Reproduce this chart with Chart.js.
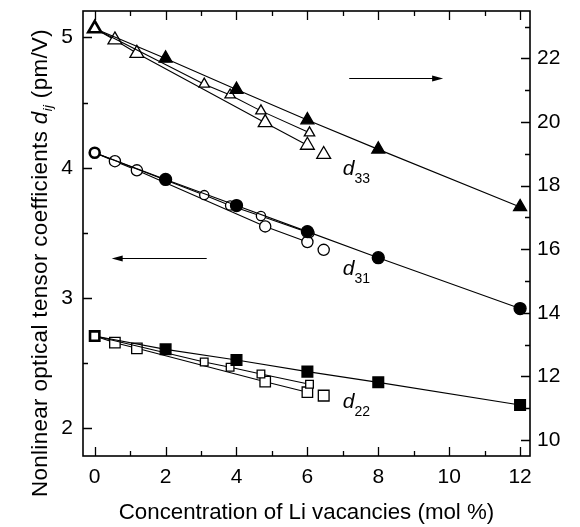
<!DOCTYPE html>
<html>
<head>
<meta charset="utf-8">
<script src="https://cdn.jsdelivr.net/npm/chart.js@4.4.0/dist/chart.umd.min.js"></script>
<style>
html,body{margin:0;padding:0;background:#fff;}
#wrap{width:580px;height:527px;position:relative;}
</style>
</head>
<body>
<div id="wrap"><canvas id="c"></canvas></div>
<script>
// ---- data (x in mol %, d31/d22 on left axis, d33 on right axis, pm/V) ----
const xFilled = [0, 2, 4, 6, 8, 12];
const xOpenA  = [0, 3.09, 3.82, 4.69, 6.06];
const xOpenB  = [0, 0.57, 1.19, 4.81, 6.0];
const xOpenC  = [6.46];

const d33Filled = [22.94, 22.0, 21.02, 20.06, 19.14, 17.33];
const d33OpenA  = [22.94, 21.19, 20.85, 20.35, 19.66];
const d33OpenB  = [22.94, 22.58, 22.16, 19.98, 19.27];
const d33OpenC  = [18.98];

const d31Filled = [4.115, 3.91, 3.71, 3.51, 3.31, 2.92];
const d31OpenA  = [4.115, 3.79, 3.71, 3.63, 3.50];
const d31OpenB  = [4.115, 4.05, 3.98, 3.55, 3.43];
const d31OpenC  = [3.37];

const d22Filled = [2.709, 2.607, 2.525, 2.436, 2.354, 2.18];
const d22OpenA  = [2.709, 2.51, 2.47, 2.418, 2.339];
const d22OpenB  = [2.709, 2.658, 2.615, 2.359, 2.278];
const d22OpenC  = [2.252];

const xTickLabels     = [0, 2, 4, 6, 8, 10, 12];
const leftTickLabels  = [2, 3, 4, 5];
const rightTickLabels = [10, 12, 14, 16, 18, 20, 22];

const FONT = '"Liberation Sans", Arial, Helvetica, sans-serif';
Chart.defaults.font.family = FONT;
Chart.defaults.color = '#000';

const pts = (xs, ys) => xs.map((x, i) => ({x: x, y: ys[i]}));

const radii = {
  triangle: {F: 7.5, A: 6, B: 8, C: 8, Z: 7.5},
  circle:   {F: 6, A: 4.6, B: 5.6, C: 5.6, Z: 5},
  rect:     {F: 7.6, A: 5.4, B: 7.4, C: 7.6, Z: 6.6}
};

function ds(xs, ys, axis, shape, kind) {
  const r = radii[shape];
  return {
    data: pts(xs, ys),
    yAxisID: axis,
    pointStyle: shape,
    borderColor: '#000',
    borderWidth: 1.1,
    showLine: kind !== 'C',
    pointBorderColor: '#000',
    pointBackgroundColor: c => (kind === 'F' && c.dataIndex > 0) ? '#000' : '#fff',
    pointBorderWidth: c => (c.dataIndex === 0 && kind === 'F') ? 2.6 : 1.3,
    pointRadius: c => {
      if (kind === 'C') return r.C;
      if (c.dataIndex === 0) return kind === 'F' ? r.Z : 0;
      return r[kind];
    },
    pointHoverRadius: 0
  };
}

const datasets = [
  ds(xFilled, d33Filled, 'y2', 'triangle', 'F'),
  ds(xOpenA,  d33OpenA,  'y2', 'triangle', 'A'),
  ds(xOpenB,  d33OpenB,  'y2', 'triangle', 'B'),
  ds(xOpenC,  d33OpenC,  'y2', 'triangle', 'C'),
  ds(xFilled, d31Filled, 'y', 'circle', 'F'),
  ds(xOpenA,  d31OpenA,  'y', 'circle', 'A'),
  ds(xOpenB,  d31OpenB,  'y', 'circle', 'B'),
  ds(xOpenC,  d31OpenC,  'y', 'circle', 'C'),
  ds(xFilled, d22Filled, 'y', 'rect', 'F'),
  ds(xOpenA,  d22OpenA,  'y', 'rect', 'A'),
  ds(xOpenB,  d22OpenB,  'y', 'rect', 'B'),
  ds(xOpenC,  d22OpenC,  'y', 'rect', 'C')
];

const deco = {
  id: 'deco',
  afterDatasetsDraw(chart) {
    const ctx = chart.ctx, a = chart.chartArea;
    const sx = chart.scales.x, sy = chart.scales.y, sr = chart.scales.y2;
    ctx.save();
    ctx.strokeStyle = '#000';
    ctx.fillStyle = '#000';
    // frame
    ctx.lineWidth = 1.6;
    ctx.strokeRect(a.left, a.top, a.right - a.left, a.bottom - a.top);
    // inward ticks
    ctx.lineWidth = 1.3;
    ctx.beginPath();
    for (let v = 0; v <= 12; v++) {
      const px = Math.round(sx.getPixelForValue(v)) + 0.5;
      const L = v % 2 === 0 ? 9 : 5;
      ctx.moveTo(px, a.bottom); ctx.lineTo(px, a.bottom - L);
      ctx.moveTo(px, a.top); ctx.lineTo(px, a.top + L);
    }
    for (let k = 4; k <= 10; k++) {
      const v = k / 2;
      const py = Math.round(sy.getPixelForValue(v)) + 0.5;
      const L = k % 2 === 0 ? 9 : 5;
      ctx.moveTo(a.left, py); ctx.lineTo(a.left + L, py);
    }
    for (let v = 10; v <= 23; v++) {
      const py = Math.round(sr.getPixelForValue(v)) + 0.5;
      const L = v % 2 === 0 ? 9 : 5;
      ctx.moveTo(a.right, py); ctx.lineTo(a.right - L, py);
    }
    ctx.stroke();

    // arrows
    function arrow(x1, x2, y) {
      ctx.lineWidth = 1.2;
      ctx.beginPath();
      const dir = Math.sign(x2 - x1);
      ctx.moveTo(x1, y); ctx.lineTo(x2 - dir * 8, y);
      ctx.stroke();
      ctx.beginPath();
      ctx.moveTo(x2, y);
      ctx.lineTo(x2 - dir * 11, y - 3);
      ctx.lineTo(x2 - dir * 11, y + 3);
      ctx.closePath();
      ctx.fill();
    }
    const yR = Math.round(sr.getPixelForValue(21.39)) + 0.5;
    arrow(sx.getPixelForValue(7.18), sx.getPixelForValue(9.83), yR);
    const yL = Math.round(sy.getPixelForValue(3.31)) + 0.5;
    arrow(sx.getPixelForValue(3.16), sx.getPixelForValue(0.48), yL);

    // d labels
    function dlabel(xv, py, sub) {
      const px = sx.getPixelForValue(xv);
      ctx.textAlign = 'left';
      ctx.textBaseline = 'alphabetic';
      ctx.font = 'italic 21px ' + FONT;
      ctx.fillText('d', px, py);
      const w = ctx.measureText('d').width;
      ctx.font = '14px ' + FONT;
      ctx.fillText(sub, px + w, py + 8);
    }
    dlabel(7.0, sr.getPixelForValue(18.33), '33');
    dlabel(7.0, sy.getPixelForValue(3.177), '31');
    dlabel(7.0, sy.getPixelForValue(2.157), '22');

    // y title (rotated, with italic d_ij)
    ctx.save();
    ctx.translate(47, 263);
    ctx.rotate(-Math.PI / 2);
    ctx.textBaseline = 'alphabetic';
    ctx.textAlign = 'left';
    try { ctx.letterSpacing = '0.4px'; } catch (e) {}
    const parts = [
      {t: 'Nonlinear optical tensor coefficients ', f: '22.3px ' + FONT, dy: 0},
      {t: 'd', f: 'italic 22.3px ' + FONT, dy: 0},
      {t: 'ij', f: 'italic 13px ' + FONT, dy: 5},
      {t: ' (pm/V)', f: '22.3px ' + FONT, dy: 0}
    ];
    let total = 0;
    parts.forEach(p => { ctx.font = p.f; p.w = ctx.measureText(p.t).width; total += p.w; });
    let cx = -total / 2;
    parts.forEach(p => { ctx.font = p.f; ctx.fillText(p.t, cx, p.dy); cx += p.w; });
    ctx.restore();

    ctx.restore();
  }
};

new Chart(document.getElementById('c'), {
  type: 'scatter',
  data: {datasets: datasets},
  plugins: [deco],
  options: {
    responsive: true,
    maintainAspectRatio: false,
    animation: false,
    layout: {padding: {top: 11, left: 0, right: 0, bottom: 0}},
    plugins: {legend: {display: false}, tooltip: {enabled: false}},
    scales: {
      x: {
        type: 'linear', position: 'bottom', min: -0.33, max: 12.28,
        grid: {display: false, drawTicks: false},
        border: {display: false},
        afterBuildTicks: s => { s.ticks = xTickLabels.map(v => ({value: v})); },
        ticks: {font: {size: 21}, color: '#000', padding: 9, maxRotation: 0, autoSkip: false,
                callback: v => String(v)},
        title: {display: true, text: 'Concentration of Li vacancies (mol %)',
                font: {size: 22.3}, color: '#000', padding: {top: 0, bottom: 1}},
        afterFit: s => { s.height = 71; s.paddingLeft = 0; s.paddingRight = 0; }
      },
      y: {
        type: 'linear', position: 'left', min: 1.789, max: 5.202,
        grid: {display: false, drawTicks: false},
        border: {display: false},
        afterBuildTicks: s => { s.ticks = leftTickLabels.map(v => ({value: v})); },
        ticks: {font: {size: 21}, color: '#000', padding: 10, callback: v => String(v)},
        afterFit: s => { s.width = 83; s.paddingTop = 0; s.paddingBottom = 0; }
      },
      y2: {
        type: 'linear', position: 'right', min: 9.5, max: 23.49,
        grid: {display: false, drawTicks: false},
        border: {display: false},
        afterBuildTicks: s => { s.ticks = rightTickLabels.map(v => ({value: v})); },
        ticks: {font: {size: 21}, color: '#000', padding: 7, callback: v => String(v)},
        afterFit: s => { s.width = 50; s.paddingTop = 0; s.paddingBottom = 0; }
      }
    }
  }
});
</script>
</body>
</html>
